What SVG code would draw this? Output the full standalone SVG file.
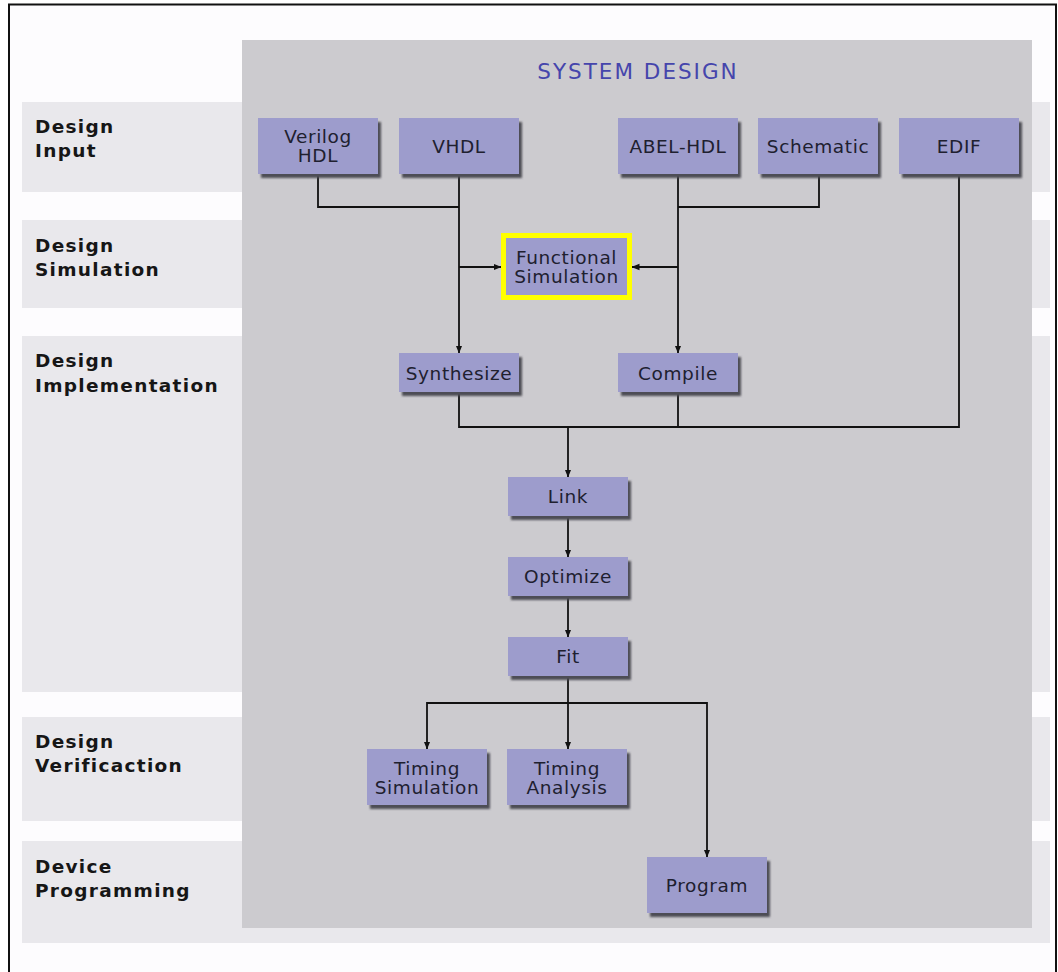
<svg xmlns="http://www.w3.org/2000/svg" width="1058" height="972" viewBox="0 0 1058 972">
  <style>
    .band { fill: #e9e8ec; }
    .stage { font-family: "DejaVu Sans", Verdana, sans-serif; font-weight: bold; font-size: 18.5px; letter-spacing: 1.3px; fill: #161616; }
    .box { fill: #9d9ccc; }
    .shadow { fill: #4e4d55; filter: url(#soft); }
    .lbl { font-family: "DejaVu Sans", Verdana, sans-serif; font-size: 18.5px; letter-spacing: 0.6px; fill: #20202f; text-anchor: middle; }
    .wire { fill: none; stroke: #111; stroke-width: 1.8; }
    .arrow { marker-end: url(#head); }
  </style>
  <defs>
    <filter id="soft" x="-10%" y="-20%" width="120%" height="140%">
      <feGaussianBlur stdDeviation="1"/>
    </filter>
    <marker id="head" markerWidth="8" markerHeight="8" refX="7.5" refY="4" orient="auto" markerUnits="userSpaceOnUse">
      <path d="M0,0.8 L8,4 L0,7.2 Z" fill="#111"/>
    </marker>
  </defs>

  <!-- page and frame -->
  <rect x="0" y="0" width="1058" height="972" fill="#ffffff"/>
  <rect x="9" y="4.5" width="1047" height="1000" fill="#fdfcfe" stroke="#111" stroke-width="2"/>

  <!-- stage bands -->
  <g id="bands">
    <rect class="band" x="22" y="102" width="1028" height="90"/>
    <rect class="band" x="22" y="220" width="1028" height="88"/>
    <rect class="band" x="22" y="336" width="1028" height="356"/>
    <rect class="band" x="22" y="717" width="1028" height="104"/>
    <rect class="band" x="22" y="841" width="1028" height="102"/>
  </g>

  <!-- system design panel -->
  <rect id="system-panel" x="242" y="40" width="790" height="888" fill="#cccbcf"/>
  <text id="title" x="638" y="79" font-family="DejaVu Sans, Verdana, sans-serif" font-size="21.5" letter-spacing="2" fill="#4545ac" text-anchor="middle">SYSTEM DESIGN</text>

  <!-- stage labels -->
  <g id="stage-labels" class="stage">
    <text x="35" y="133">Design<tspan x="35" y="157">Input</tspan></text>
    <text x="35" y="252">Design<tspan x="35" y="276">Simulation</tspan></text>
    <text x="35" y="367">Design<tspan x="35" y="391.5">Implementation</tspan></text>
    <text x="35" y="748">Design<tspan x="35" y="772">Verificaction</tspan></text>
    <text x="35" y="873">Device<tspan x="35" y="897">Programming</tspan></text>
  </g>

  <!-- connectors -->
  <g id="connectors">
    <path class="wire" d="M318,174 V207 H459"/>
    <path class="wire arrow" d="M459,174 V353"/>
    <path class="wire arrow" d="M459,267 H501"/>
    <path class="wire" d="M819,174 V207 H678"/>
    <path class="wire arrow" d="M678,174 V353"/>
    <path class="wire arrow" d="M678,267 H632"/>
    <path class="wire" d="M959,174 V427 H459 V392"/>
    <path class="wire" d="M678,392 V427"/>
    <path class="wire arrow" d="M568,427 V477"/>
    <path class="wire arrow" d="M568,516 V557"/>
    <path class="wire arrow" d="M568,596 V637"/>
    <path class="wire arrow" d="M568,676 V749"/>
    <path class="wire arrow" d="M568,703 H427 V749"/>
    <path class="wire arrow" d="M568,703 H707 V857"/>
  </g>

  <!-- nodes -->
  <g id="verilog">
    <rect class="shadow" x="261" y="122" width="120" height="56"/>
    <rect class="box" x="258" y="118" width="120" height="56"/>
    <text class="lbl" x="318" y="143">Verilog<tspan x="318" y="162">HDL</tspan></text>
  </g>
  <g id="vhdl">
    <rect class="shadow" x="402" y="122" width="120" height="56"/>
    <rect class="box" x="399" y="118" width="120" height="56"/>
    <text class="lbl" x="459" y="152.5">VHDL</text>
  </g>
  <g id="abel-hdl">
    <rect class="shadow" x="621" y="122" width="120" height="56"/>
    <rect class="box" x="618" y="118" width="120" height="56"/>
    <text class="lbl" x="678" y="152.5">ABEL-HDL</text>
  </g>
  <g id="schematic">
    <rect class="shadow" x="761" y="122" width="120" height="56"/>
    <rect class="box" x="758" y="118" width="120" height="56"/>
    <text class="lbl" x="818" y="152.5">Schematic</text>
  </g>
  <g id="edif">
    <rect class="shadow" x="902" y="122" width="120" height="56"/>
    <rect class="box" x="899" y="118" width="120" height="56"/>
    <text class="lbl" x="959" y="152.5">EDIF</text>
  </g>
  <g id="functional-simulation">
    <rect class="box" x="503.5" y="235.5" width="126" height="62" stroke="#ffff00" stroke-width="5"/>
    <text class="lbl" x="566.5" y="263.5">Functional<tspan x="566.5" y="283">Simulation</tspan></text>
  </g>
  <g id="synthesize">
    <rect class="shadow" x="402" y="357" width="120" height="39"/>
    <rect class="box" x="399" y="353" width="120" height="39"/>
    <text class="lbl" x="459" y="379.5">Synthesize</text>
  </g>
  <g id="compile">
    <rect class="shadow" x="621" y="357" width="120" height="39"/>
    <rect class="box" x="618" y="353" width="120" height="39"/>
    <text class="lbl" x="678" y="379.5">Compile</text>
  </g>
  <g id="link">
    <rect class="shadow" x="511" y="481" width="120" height="39"/>
    <rect class="box" x="508" y="477" width="120" height="39"/>
    <text class="lbl" x="568" y="503">Link</text>
  </g>
  <g id="optimize">
    <rect class="shadow" x="511" y="561" width="120" height="39"/>
    <rect class="box" x="508" y="557" width="120" height="39"/>
    <text class="lbl" x="568" y="583">Optimize</text>
  </g>
  <g id="fit">
    <rect class="shadow" x="511" y="641" width="120" height="39"/>
    <rect class="box" x="508" y="637" width="120" height="39"/>
    <text class="lbl" x="568" y="663">Fit</text>
  </g>
  <g id="timing-simulation">
    <rect class="shadow" x="370" y="753" width="120" height="56"/>
    <rect class="box" x="367" y="749" width="120" height="56"/>
    <text class="lbl" x="427" y="774.5">Timing<tspan x="427" y="794">Simulation</tspan></text>
  </g>
  <g id="timing-analysis">
    <rect class="shadow" x="510" y="753" width="120" height="56"/>
    <rect class="box" x="507" y="749" width="120" height="56"/>
    <text class="lbl" x="567" y="774.5">Timing<tspan x="567" y="794">Analysis</tspan></text>
  </g>
  <g id="program">
    <rect class="shadow" x="650" y="861" width="120" height="56"/>
    <rect class="box" x="647" y="857" width="120" height="56"/>
    <text class="lbl" x="707" y="892">Program</text>
  </g>
</svg>
